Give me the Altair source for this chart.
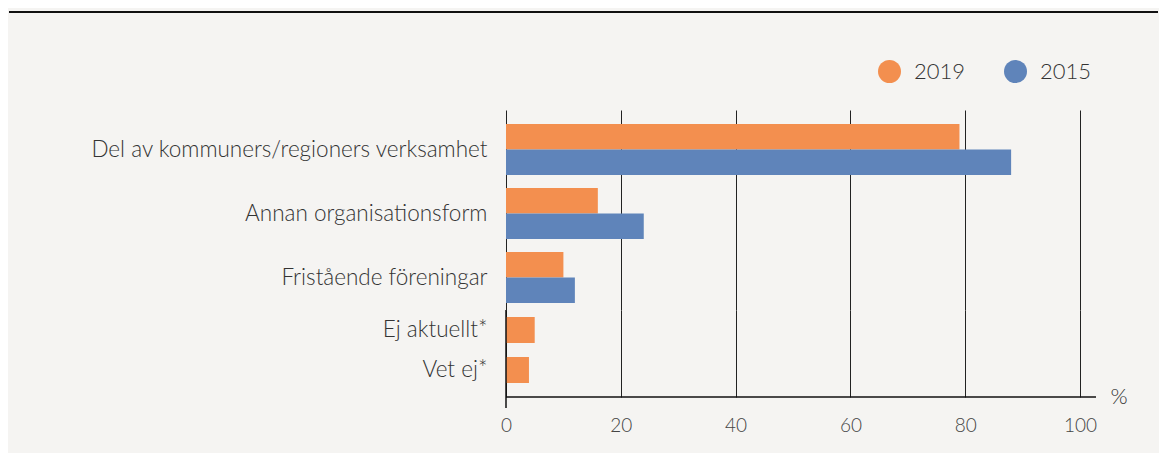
import altair as alt
import pandas as pd

# ---- data ----
top_categories = ["Del av kommuners/regioners verksamhet", "Annan organisationsform", "Fristående föreningar"]
top_2019 = [79, 16, 10]
top_2015 = [88, 24, 12]

bottom_categories = ["Ej aktuellt*", "Vet ej*"]
bottom_2019 = [5, 4]

years = ["2019", "2015"]
colors = ["#F38F4F", "#5F84BA"]
tick_values = [0, 20, 40, 60, 80, 100]

FONT = "Lato"
BG = "#f5f4f2"

rows = []
for c, a, b in zip(top_categories, top_2019, top_2015):
    rows.append({"category": c, "year": "2019", "value": a})
    rows.append({"category": c, "year": "2015", "value": b})
df_top = pd.DataFrame(rows)
df_bottom = pd.DataFrame({"category": bottom_categories, "year": "2019", "value": bottom_2019})
one = pd.DataFrame({"k": [0]})

W = 574
H_TOP = 200
H_BOT = 87

xscale = alt.Scale(domain=[0, 100], nice=False, zero=True)
color_scale = alt.Scale(domain=years, range=colors)

yaxis = dict(title=None, ticks=False, domain=False, labelPadding=19, labelFontSize=22.5,
             labelColor="#333333", labelFont=FONT, labelFontWeight=300, labelLimit=600)

bars_top = alt.Chart(df_top).mark_bar().encode(
    x=alt.X("value:Q", scale=xscale,
            axis=alt.Axis(values=tick_values, grid=True, labels=False, ticks=False, domain=False, title=None)),
    y=alt.Y("category:N", sort=top_categories,
            scale=alt.Scale(paddingInner=0.203125, paddingOuter=0.1640625, align=0.6667),
            axis=alt.Axis(**yaxis)),
    yOffset=alt.YOffset("year:N", sort=years, scale=alt.Scale(paddingInner=0, paddingOuter=0)),
    color=alt.Color("year:N", scale=color_scale, sort=years,
                    legend=alt.Legend(title=None, orient="none", legendX=372, legendY=-50,
                                      direction="horizontal", symbolType="circle", symbolSize=529,
                                      symbolStrokeWidth=0, labelFontSize=22, labelOffset=13,
                                      columnPadding=38, labelColor="#333333", labelFont=FONT,
                                      labelFontWeight=300, padding=0)),
)

top_line = alt.Chart(one).mark_rule(color="#111111", strokeWidth=2).encode(
    x=alt.value(-497), x2=alt.value(652), y=alt.value(-98)
)

top = alt.layer(bars_top, top_line).properties(width=W, height=H_TOP)

bars_bot = alt.Chart(df_bottom).mark_bar().encode(
    x=alt.X("value:Q", scale=xscale,
            axis=alt.Axis(values=tick_values, grid=True, labels=True, ticks=False, tickSize=0,
                          domain=False, title=None, labelPadding=19, labelFontSize=19,
                          labelFlush=False, labelColor="#444444", labelFont=FONT,
                          labelFontWeight=300)),
    y=alt.Y("category:N", sort=bottom_categories,
            scale=alt.Scale(paddingInner=0.35, paddingOuter=0.2625, align=0.3333),
            axis=alt.Axis(**yaxis)),
    color=alt.Color("year:N", scale=color_scale, legend=None),
)

domain_line = alt.Chart(one).mark_rule(color="#111111", strokeWidth=1.5).encode(
    x=alt.value(0), x2=alt.value(590), y=alt.value(H_BOT)
)
zero_line = alt.Chart(one).mark_rule(color="#111111", strokeWidth=1.5).encode(
    x=alt.value(0), y=alt.value(0), y2=alt.value(H_BOT + 11)
)
pct = alt.Chart(one).mark_text(text="%", fontSize=22, font=FONT, fontWeight=300, color="#333333",
                                align="center", baseline="middle").encode(
    x=alt.value(613), y=alt.value(H_BOT)
)

bottom = alt.layer(bars_bot, domain_line, zero_line, pct).properties(width=W, height=H_BOT)

chart = alt.vconcat(top, bottom, spacing=0, bounds="flush").resolve_scale(
    y="independent", color="independent"
).properties(
    padding={"left": 0, "top": 3, "right": 0, "bottom": 18},
    background=BG,
).configure_view(stroke=None).configure_axis(
    gridColor="#222222", gridWidth=1, gridOpacity=1
)

chart.save("out.html", embed_options={"renderer": "svg", "actions": False})
